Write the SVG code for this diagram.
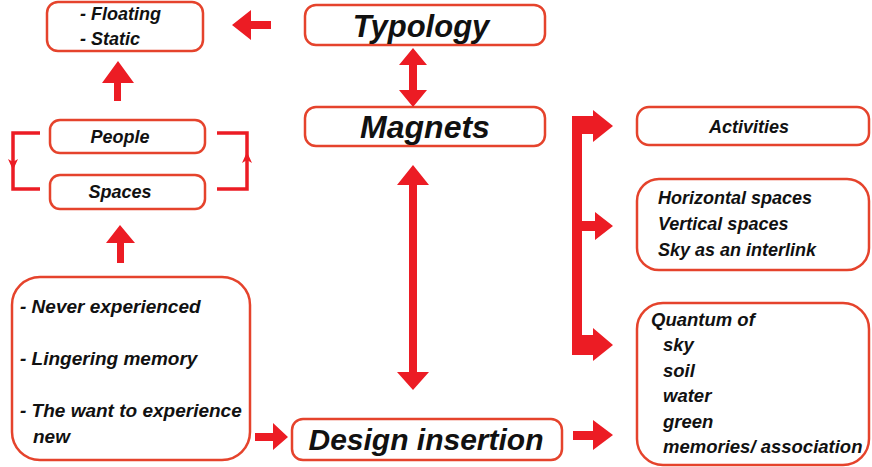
<svg xmlns="http://www.w3.org/2000/svg" width="872" height="467" viewBox="0 0 872 467">
  <style>
    .box { fill: #ffffff; stroke: #e5432c; stroke-width: 2.5; }
    .t { font-family: "Liberation Sans", Arial, sans-serif; font-weight: bold; font-style: italic; fill: #111111; }
    .arrow { fill: #ec1c24; stroke: none; }
    .line { fill: none; stroke: #ec1c24; stroke-width: 3.5; }
  </style>
  <rect width="872" height="467" fill="#ffffff"/>

  <g id="floating-static">
    <rect class="box" x="47" y="2" width="156" height="49" rx="11"/>
    <text class="t" x="80" y="20" font-size="18">- Floating</text>
    <text class="t" x="80" y="45" font-size="18">- Static</text>
  </g>

  <g id="typology">
    <rect class="box" x="305" y="5" width="240" height="40" rx="11"/>
    <text class="t" x="421" y="37" font-size="31" text-anchor="middle">Typology</text>
  </g>

  <g id="magnets">
    <rect class="box" x="305" y="107" width="240" height="39" rx="11"/>
    <text class="t" x="425" y="138" font-size="32" text-anchor="middle">Magnets</text>
  </g>

  <g id="people">
    <rect class="box" x="50" y="120" width="155" height="33" rx="10"/>
    <text class="t" x="120" y="143" font-size="18" text-anchor="middle">People</text>
  </g>

  <g id="spaces">
    <rect class="box" x="50" y="175" width="155" height="34" rx="10"/>
    <text class="t" x="120" y="198" font-size="18" text-anchor="middle">Spaces</text>
  </g>

  <g id="experience">
    <rect class="box" x="12" y="277" width="238" height="183" rx="28"/>
    <text class="t" x="20" y="313" font-size="19">- Never experienced</text>
    <text class="t" x="20" y="365" font-size="19">- Lingering memory</text>
    <text class="t" x="20" y="417" font-size="19">- The want to experience</text>
    <text class="t" x="33" y="443" font-size="19">new</text>
  </g>

  <g id="design-insertion">
    <rect class="box" x="292" y="419" width="270" height="41" rx="11"/>
    <text class="t" x="426" y="450" font-size="30" text-anchor="middle">Design insertion</text>
  </g>

  <g id="activities">
    <rect class="box" x="637" y="107" width="232" height="38" rx="12"/>
    <text class="t" x="749" y="133" font-size="18" text-anchor="middle">Activities</text>
  </g>

  <g id="spaces-list">
    <rect class="box" x="637" y="179" width="232" height="91" rx="22"/>
    <text class="t" x="658" y="204" font-size="18">Horizontal spaces</text>
    <text class="t" x="658" y="230" font-size="18">Vertical spaces</text>
    <text class="t" x="658" y="256" font-size="18">Sky as an interlink</text>
  </g>

  <g id="quantum">
    <rect class="box" x="637" y="303" width="232" height="162" rx="26"/>
    <text class="t" x="651" y="326" font-size="18.5">Quantum of</text>
    <text class="t" x="663" y="351" font-size="18.5">sky</text>
    <text class="t" x="663" y="377" font-size="18.5">soil</text>
    <text class="t" x="663" y="402" font-size="18.5">water</text>
    <text class="t" x="663" y="428" font-size="18.5">green</text>
    <text class="t" x="663" y="453" font-size="18.5">memories/ association</text>
  </g>

  <g id="connectors">
    <!-- Typology to Floating/Static -->
    <polygon class="arrow" points="232,25 251,10 251,21 271,21 271,29 251,29 251,40"/>
    <!-- People up to Floating/Static -->
    <polygon class="arrow" points="118,61 134,83 121,83 121,101 114,101 114,83 102,83"/>
    <!-- Experience up to Spaces -->
    <polygon class="arrow" points="120,225 135,243 124,243 124,263 117,263 117,243 106,243"/>
    <!-- Typology and Magnets -->
    <polygon class="arrow" points="413,48 427,65 417,65 417,90 427,90 413,107 399,90 409,90 409,65 399,65"/>
    <!-- Magnets and Design insertion -->
    <polygon class="arrow" points="413,165 429,185 417,185 417,372 429,372 413,390 397,372 409,372 409,185 397,185"/>
    <!-- Bracket to the three right-hand boxes -->
    <path class="arrow" d="M572,116 L593,116 L593,110 L613,126 L593,142 L593,134 L582,134 L582,221 L595,221 L595,212 L613,226 L595,240 L595,231 L582,231 L582,335 L593,335 L593,328 L613,345 L593,361 L593,355 L572,355 Z"/>
    <!-- Experience to Design insertion -->
    <polygon class="arrow" points="255,433 273,433 273,423 288,437 273,450 273,441 255,441"/>
    <!-- Design insertion to Quantum -->
    <polygon class="arrow" points="573,431 593,431 593,420 613,435 593,450 593,440 573,440"/>
    <!-- People / Spaces loop -->
    <polyline class="line" points="40,133 13,133 13,189 40,189"/>
    <polygon class="arrow" points="8,159 13,162 18,159 13,170"/>
    <polyline class="line" points="217,133 247,133 247,189 217,189"/>
    <polygon class="arrow" points="247,152 252,163 247,160 242,163"/>
  </g>
</svg>
